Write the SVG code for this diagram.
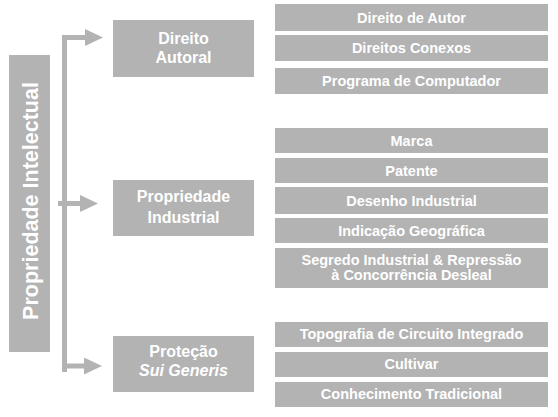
<svg xmlns="http://www.w3.org/2000/svg" width="558" height="417" viewBox="0 0 558 417">
<style>
.box{fill:#b3b3b3}
.t{fill:#ffffff;font-family:"Liberation Sans",Arial,sans-serif;font-weight:bold;text-anchor:middle}
.s{font-size:14.5px}
.m{font-size:16px}
.l{font-size:21.5px}
.c{fill:none;stroke:#b3b3b3;stroke-width:5}
</style>
<defs>
<marker id="ah" markerUnits="userSpaceOnUse" viewBox="0 0 18 17" markerWidth="18" markerHeight="17" refX="0.5" refY="8.5" orient="auto">
<path d="M0,0 L18,8.5 L0,17 Z" fill="#b3b3b3"/>
</marker>
</defs>
<rect width="558" height="417" fill="#ffffff"/>
<g id="connectors">
<path class="c" d="M64.5,372 V37.5 H85.5" marker-end="url(#ah)"/>
<path class="c" d="M58,203.5 H80.5" marker-end="url(#ah)"/>
<path class="c" d="M64.5,366 H84.5" marker-end="url(#ah)"/>
</g>
<g id="n-pi"><rect class="box" x="9" y="55" width="41" height="297"/><text class="t l" transform="translate(37.5,201) rotate(-90)">Propriedade Intelectual</text></g>
<g id="n-da"><rect class="box" x="113" y="20" width="141" height="57"/><text class="t m" x="183.5" y="43.5">Direito</text><text class="t m" x="183.5" y="63">Autoral</text></g>
<g id="n-pind"><rect class="box" x="113" y="180" width="141" height="56"/><text class="t m" x="183.5" y="202">Propriedade</text><text class="t m" x="183.5" y="222.5">Industrial</text></g>
<g id="n-psg"><rect class="box" x="113" y="336" width="141" height="56"/><text class="t m" x="183.5" y="357">Proteção</text><text class="t m" x="183.5" y="376" font-style="italic">Sui Generis</text></g>
<g id="n-dautor"><rect class="box" x="275" y="4" width="273" height="27"/><text class="t s" x="411.5" y="22.5">Direito de Autor</text></g>
<g id="n-dcon"><rect class="box" x="275" y="35" width="273" height="26"/><text class="t s" x="411.5" y="53">Direitos Conexos</text></g>
<g id="n-prog"><rect class="box" x="275" y="68" width="273" height="26"/><text class="t s" x="411.5" y="86">Programa de Computador</text></g>
<g id="n-marca"><rect class="box" x="275" y="128" width="273" height="25"/><text class="t s" x="411.5" y="146">Marca</text></g>
<g id="n-pat"><rect class="box" x="275" y="158" width="273" height="25"/><text class="t s" x="411.5" y="176">Patente</text></g>
<g id="n-des"><rect class="box" x="275" y="187" width="273" height="27"/><text class="t s" x="411.5" y="205.5">Desenho Industrial</text></g>
<g id="n-ind"><rect class="box" x="275" y="218" width="273" height="25"/><text class="t s" x="411.5" y="236">Indicação Geográfica</text></g>
<g id="n-seg"><rect class="box" x="275" y="248" width="273" height="40"/><text class="t s" x="411.5" y="265">Segredo Industrial &amp; Repressão</text><text class="t s" x="411.5" y="280">à Concorrência Desleal</text></g>
<g id="n-top"><rect class="box" x="275" y="322" width="273" height="25"/><text class="t s" x="411.5" y="339">Topografia de Circuito Integrado</text></g>
<g id="n-cult"><rect class="box" x="275" y="352" width="273" height="25"/><text class="t s" x="411.5" y="369">Cultivar</text></g>
<g id="n-con"><rect class="box" x="275" y="382" width="273" height="25"/><text class="t s" x="411.5" y="399">Conhecimento Tradicional</text></g>
</svg>
